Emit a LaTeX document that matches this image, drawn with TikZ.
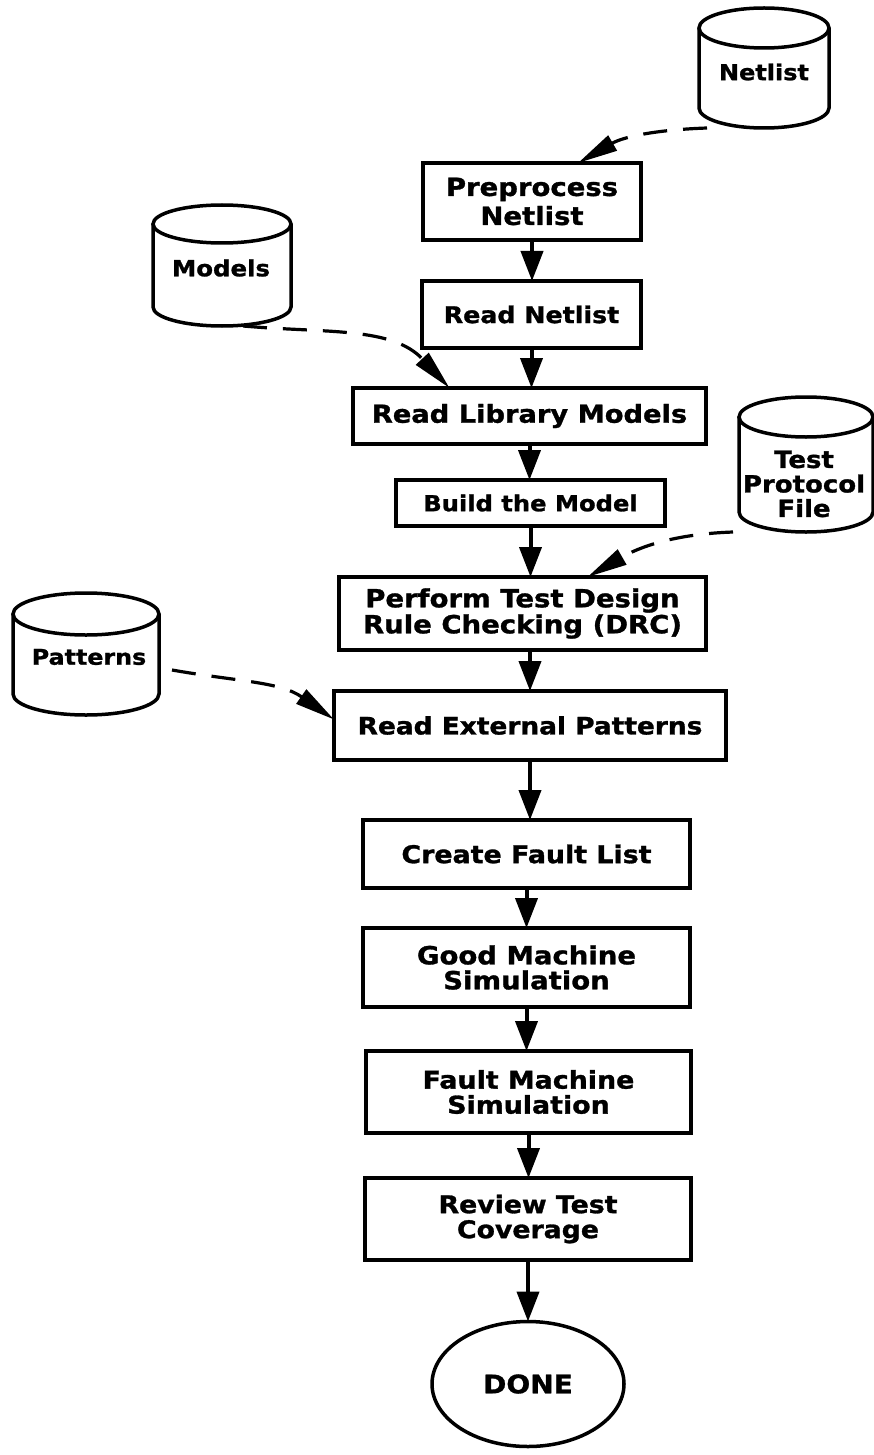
\documentclass[tikz,border=0pt]{standalone}
\usepackage{fontspec}
\setmainfont{DejaVu Sans}[FakeStretch=1.1, BoldFeatures={FakeBold=1.2}]
\usetikzlibrary{arrows.meta,calc,shapes.geometric}
\newcommand{\drum}[3]{%
  \draw[cyl] ([yshift=-#3pt]#1.north) ellipse [x radius=#2pt, y radius=#3pt];
  \draw[cyl] ([yshift=-#3pt]#1.north west) -- ([yshift=#3pt]#1.south west)
    arc[start angle=180, end angle=360, x radius=#2pt, y radius=#3pt]
    -- ([yshift=-#3pt]#1.north east);
}
\begin{document}
\begin{tikzpicture}[x=1pt,y=-1pt,
  txt/.style 2 args={font=\bfseries\fontsize{#1}{#2}\selectfont},
  box/.style={draw, line width=3.5pt, rectangle, inner sep=0pt, outer sep=0pt, align=center},
  drumbox/.style={rectangle, inner sep=0pt, outer sep=0pt},
  cyl/.style={line width=3.5pt},
  lbl/.style={align=center, inner sep=0pt},
  arr/.style={line width=4pt, -{Triangle[length=30pt,width=22pt]}},
  darr/.style={line width=3.2pt, dash pattern=on 24pt off 16pt, -{Triangle[length=40pt,width=17pt]}}
]
\fill[white] (0,0) rectangle (874,1455);
\useasboundingbox (0,0) rectangle (874,1455);

% data stores
\node[drumbox, minimum width=130pt, minimum height=120pt] (netlist) at (764,68) {};
\drum{netlist}{65}{20}
\node[lbl, txt={21.8}{24}] (netlistT) at (764,72) {Netlist};

\node[drumbox, minimum width=138pt, minimum height=121pt] (models) at (222,265.5) {};
\drum{models}{69}{19}
\node[lbl, txt={22.2}{24}] (modelsT) at (221,268) {Models};

\node[drumbox, minimum width=134pt, minimum height=135pt] (tpf) at (806,464.5) {};
\drum{tpf}{67}{20}
\node[lbl, txt={23.6}{24.5}] (tpfT) at (804,484) {Test\\Protocol\\File};

\node[drumbox, minimum width=146pt, minimum height=122pt] (patterns) at (86,654) {};
\drum{patterns}{73}{21}
\node[lbl, txt={21.6}{24}] (patternsT) at (89,657) {Patterns};

% process boxes
\node[box, txt={25}{29}, minimum width=218pt, minimum height=77pt] (pre) at (532,201.5) {Preprocess\\Netlist};
\node[box, txt={23}{26}, minimum width=219pt, minimum height=67pt] (rn) at (531.5,314.5) {Read Netlist};
\node[box, txt={24.8}{26}, minimum width=353pt, minimum height=56pt] (rlm) at (529.5,416) {Read Library Models};
\node[box, txt={22}{26}, minimum width=269pt, minimum height=46pt] (btm) at (530.5,503) {Build the Model};
\node[box, txt={25}{26}, minimum width=367pt, minimum height=73pt] (drc) at (522.5,613.5) {Perform Test Design\\Rule Checking (DRC)};
\node[box, txt={24}{26}, minimum width=392pt, minimum height=69pt] (rep) at (530,725.5) {Read External Patterns};
\node[box, txt={24.4}{26}, minimum width=327pt, minimum height=68pt] (cfl) at (526.5,854) {Create Fault List};
\node[box, txt={25}{25}, minimum width=327pt, minimum height=79pt] (gms) at (526.5,967.5) {Good Machine\\Simulation};
\node[box, txt={24.4}{25}, minimum width=325pt, minimum height=82pt] (fms) at (528.5,1092) {Fault Machine\\Simulation};
\node[box, txt={24.3}{25}, minimum width=326pt, minimum height=82pt] (rtc) at (528,1219) {Review Test\\Coverage};
\node[ellipse, draw, line width=3.5pt, inner sep=0pt, outer sep=0pt, txt={25.5}{26}, minimum width=192pt, minimum height=125pt] (done) at (528,1384) {DONE};

% main flow
\draw[arr] (pre.south) -- (pre.south |- rn.north);
\draw[arr] (rn.south) -- (rn.south |- rlm.north);
\draw[arr] (rlm.south) -- (rlm.south |- btm.north);
\draw[arr] (btm.south) -- (btm.south |- drc.north);
\draw[arr] (drc.south -| rep.north) -- (rep.north);
\draw[arr] (rep.south) -- (rep.south |- cfl.north);
\draw[arr] (cfl.south) -- (cfl.south |- gms.north);
\draw[arr] (gms.south) -- (gms.south |- fms.north);
\draw[arr] (fms.south) -- (fms.south |- rtc.north);
\draw[arr] (rtc.south) -- (done.north);

% data inputs
\draw[darr] ([xshift=8pt]netlist.south west) to[out=182, in=30] ([xshift=46pt]pre.north);
\draw[darr] ([xshift=21pt]models.south) to[out=355, in=133] ([xshift=-80pt]rlm.north);
\draw[darr] ([xshift=-6pt]tpf.south west) to[out=182, in=30] ([xshift=65pt]drc.north);
\draw[darr] ([shift={(13,16)}]patterns.east) to[out=350, in=145] ([yshift=6pt]rep.west);
\end{tikzpicture}
\end{document}
